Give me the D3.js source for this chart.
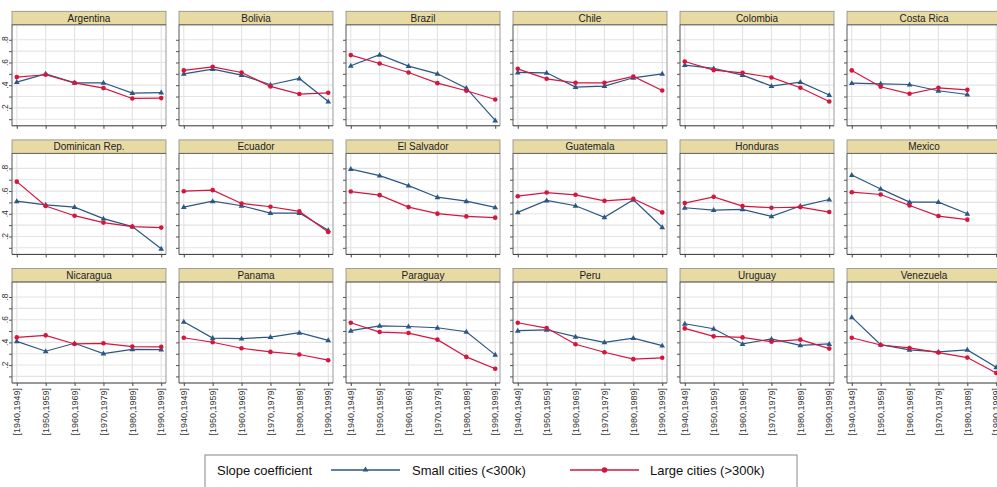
<!DOCTYPE html>
<html>
<head>
<meta charset="utf-8">
<script src="https://cdn.jsdelivr.net/npm/d3@7"></script>
<style>
  html, body { margin: 0; padding: 0; background: #fff; overflow: hidden; }
  svg { display: block; font-family: "Liberation Sans", Arial, sans-serif; }
</style>
</head>
<body>
<svg id="chart" width="997" height="487"></svg>
<script>
// Decade bins shown along the x axis
const periods = ["[1940,1949]", "[1950,1959]", "[1960,1969]", "[1970,1979]", "[1980,1989]", "[1990,1999]"];

// Panels, read row by row
const countries = [
  "Argentina", "Bolivia", "Brazil", "Chile", "Colombia", "Costa Rica",
  "Dominican Rep.", "Ecuador", "El Salvador", "Guatemala", "Honduras", "Mexico",
  "Nicaragua", "Panama", "Paraguay", "Peru", "Uruguay", "Venezuela"
];

// Slope coefficient, small cities (<300k)
const smallCities = [
  [0.427, 0.500, 0.421, 0.421, 0.330, 0.335],
  [0.500, 0.542, 0.489, 0.404, 0.459, 0.256],
  [0.571, 0.668, 0.568, 0.500, 0.374, 0.089],
  [0.512, 0.509, 0.383, 0.392, 0.465, 0.500],
  [0.577, 0.548, 0.489, 0.392, 0.427, 0.313],
  [0.418, 0.412, 0.406, 0.351, 0.318, null],
  [0.511, 0.479, 0.459, 0.357, 0.287, 0.092],
  [0.459, 0.511, 0.471, 0.406, 0.406, 0.255],
  [0.794, 0.736, 0.648, 0.546, 0.511, 0.456],
  [0.412, 0.517, 0.471, 0.369, 0.523, 0.281],
  [0.453, 0.433, 0.439, 0.377, 0.468, 0.526],
  [0.742, 0.619, 0.503, 0.503, 0.400, null],
  [0.409, 0.322, 0.392, 0.301, 0.339, 0.336],
  [0.581, 0.438, 0.433, 0.447, 0.485, 0.418],
  [0.503, 0.546, 0.540, 0.529, 0.494, 0.290],
  [0.503, 0.511, 0.450, 0.400, 0.438, 0.371],
  [0.564, 0.520, 0.386, 0.430, 0.374, 0.386],
  [0.622, 0.380, 0.334, 0.316, 0.334, 0.180]
];

// Slope coefficient, large cities (>300k)
const largeCities = [
  [0.471, 0.492, 0.421, 0.374, 0.283, 0.286],
  [0.530, 0.562, 0.512, 0.389, 0.322, 0.333],
  [0.665, 0.591, 0.512, 0.418, 0.351, 0.274],
  [0.544, 0.456, 0.421, 0.421, 0.477, 0.353],
  [0.609, 0.533, 0.509, 0.468, 0.377, 0.256],
  [0.530, 0.386, 0.324, 0.377, 0.359, null],
  [0.683, 0.468, 0.383, 0.322, 0.287, 0.278],
  [0.599, 0.608, 0.491, 0.462, 0.421, 0.240],
  [0.596, 0.564, 0.459, 0.401, 0.377, 0.366],
  [0.555, 0.587, 0.567, 0.514, 0.532, 0.412],
  [0.494, 0.549, 0.468, 0.453, 0.459, 0.415],
  [0.590, 0.570, 0.473, 0.380, 0.348, null],
  [0.444, 0.462, 0.386, 0.392, 0.363, 0.360],
  [0.441, 0.401, 0.348, 0.316, 0.293, 0.243],
  [0.573, 0.491, 0.482, 0.424, 0.272, 0.167],
  [0.573, 0.526, 0.383, 0.313, 0.252, 0.264],
  [0.523, 0.453, 0.444, 0.406, 0.424, 0.345],
  [0.441, 0.377, 0.351, 0.310, 0.266, 0.130]
];

// Y axis ticks
const yMajorTicks = [0.2, 0.4, 0.6, 0.8];
const yAllTicks = [0.1, 0.2, 0.3, 0.4, 0.5, 0.6, 0.7, 0.8];
const yTickLabels = [".2", ".4", ".6", ".8"];

const seriesNames = ["Small cities (<300k)", "Large cities (>300k)"];
const legendTitle = "Slope coefficient";

const COLORS = { small: "#2a5783", large: "#d4163f" };

const svg = d3.select("#chart");

const nCols = 6;
const panelW = 154, plotH = 101, stripH = 13.5;
const colStep = 167, rowStep = 128.6;
const left0 = 12, plotTop0 = 24.8;

const yScale = d3.scaleLinear().domain([0.042, 0.932]).range([plotH, 0]);
const xScale = d3.scaleLinear().domain([-0.165, 5.165]).range([0, panelW]);

const lineGen = d3.line()
  .defined(d => d != null)
  .x((d, i) => xScale(i))
  .y(d => yScale(d));

function triangle(g, x, y, color) {
  const s = 3.0;
  g.append("path")
    .attr("d", `M${x},${y - s}L${x + s * 0.95},${y + s * 0.65}L${x - s * 0.95},${y + s * 0.65}Z`)
    .attr("fill", color);
}

countries.forEach((name, k) => {
  const col = k % nCols, row = Math.floor(k / nCols);
  const gx = left0 + col * colStep;
  const gy = plotTop0 + row * rowStep;
  const g = svg.append("g").attr("transform", `translate(${gx},${gy})`);

  // grid
  g.append("g").selectAll("line.h").data(yAllTicks).join("line")
    .attr("x1", 0).attr("x2", panelW)
    .attr("y1", d => yScale(d)).attr("y2", d => yScale(d))
    .attr("stroke", "#e3e3e3").attr("stroke-width", 1.1);
  g.append("g").selectAll("line.v").data(periods).join("line")
    .attr("x1", (d, i) => xScale(i)).attr("x2", (d, i) => xScale(i))
    .attr("y1", 0).attr("y2", plotH)
    .attr("stroke", "#e3e3e3").attr("stroke-width", 1.1);

  // right frame
  g.append("line").attr("x1", panelW).attr("x2", panelW).attr("y1", 0).attr("y2", plotH)
    .attr("stroke", "#9a9a9a").attr("stroke-width", 1);

  // strip title
  g.append("rect")
    .attr("x", 0).attr("y", -stripH).attr("width", panelW).attr("height", stripH)
    .attr("fill", "#e7daa3").attr("stroke", "#8a8a8a").attr("stroke-width", 0.8);
  g.append("line").attr("x1", 0).attr("x2", panelW).attr("y1", 0).attr("y2", 0)
    .attr("stroke", "#666").attr("stroke-width", 1);
  g.append("text")
    .attr("x", panelW / 2).attr("y", -stripH / 2 + 3.6)
    .attr("text-anchor", "middle")
    .attr("font-size", 10).attr("fill", "#222")
    .text(name);

  // y axis
  const yAxis = d3.axisLeft(yScale).tickValues(yAllTicks).tickSize(3).tickFormat("");
  const ya = g.append("g").call(yAxis);
  ya.select(".domain").attr("stroke", "#555").attr("d", `M0,0V${plotH}`);
  ya.selectAll(".tick line").attr("stroke", "#555");
  if (col === 0) {
    g.append("g").selectAll("text").data(yMajorTicks).join("text")
      .attr("transform", d => `translate(${-3.6},${yScale(d)}) rotate(-90)`)
      .attr("text-anchor", "middle")
      .attr("font-size", 8.5).attr("fill", "#333")
      .text((d, i) => yTickLabels[i]);
  }

  // x axis
  const xa = g.append("g").attr("transform", `translate(0,${plotH})`)
    .call(d3.axisBottom(xScale).tickValues(d3.range(periods.length)).tickSize(3).tickFormat(""));
  xa.select(".domain").attr("stroke", "#333").attr("d", `M0,0H${panelW}`);
  xa.selectAll(".tick line").attr("stroke", "#444");
  if (row === 2) {
    g.append("g").selectAll("text").data(periods).join("text")
      .attr("transform", (d, i) => `translate(${xScale(i) + 3.2},${plotH + 5}) rotate(-90)`)
      .attr("text-anchor", "end")
      .attr("font-size", 9).attr("fill", "#333")
      .text(d => d);
  }

  // series: small cities
  const sm = smallCities[k], lg = largeCities[k];
  g.append("path").datum(sm).attr("d", lineGen)
    .attr("fill", "none").attr("stroke", COLORS.small).attr("stroke-width", 1.2);
  sm.forEach((v, i) => { if (v != null) triangle(g, xScale(i), yScale(v), COLORS.small); });

  // series: large cities
  g.append("path").datum(lg).attr("d", lineGen)
    .attr("fill", "none").attr("stroke", COLORS.large).attr("stroke-width", 1.2);
  g.append("g").selectAll("circle").data(lg.map((v, i) => ({ v, i })).filter(d => d.v != null))
    .join("circle")
    .attr("cx", d => xScale(d.i)).attr("cy", d => yScale(d.v))
    .attr("r", 2.3).attr("fill", COLORS.large);
});

// legend
const lg = svg.append("g").attr("transform", "translate(205,455)");
lg.append("rect").attr("x", 0).attr("y", 0).attr("width", 592).attr("height", 40)
  .attr("fill", "#fff").attr("stroke", "#888").attr("stroke-width", 1);
const ly = 15;
lg.append("text").attr("x", 12).attr("y", ly + 4.5).attr("font-size", 13).attr("fill", "#111").text(legendTitle);
lg.append("line").attr("x1", 126).attr("x2", 195).attr("y1", ly).attr("y2", ly)
  .attr("stroke", COLORS.small).attr("stroke-width", 1.4);
triangle(lg, 160.5, ly - 0.5, COLORS.small);
lg.append("text").attr("x", 207).attr("y", ly + 4.5).attr("font-size", 13).attr("fill", "#111").text(seriesNames[0]);
lg.append("line").attr("x1", 365).attr("x2", 434).attr("y1", ly).attr("y2", ly)
  .attr("stroke", COLORS.large).attr("stroke-width", 1.4);
lg.append("circle").attr("cx", 399.5).attr("cy", ly).attr("r", 2.8).attr("fill", COLORS.large);
lg.append("text").attr("x", 445).attr("y", ly + 4.5).attr("font-size", 13).attr("fill", "#111").text(seriesNames[1]);
</script>
</body>
</html>
